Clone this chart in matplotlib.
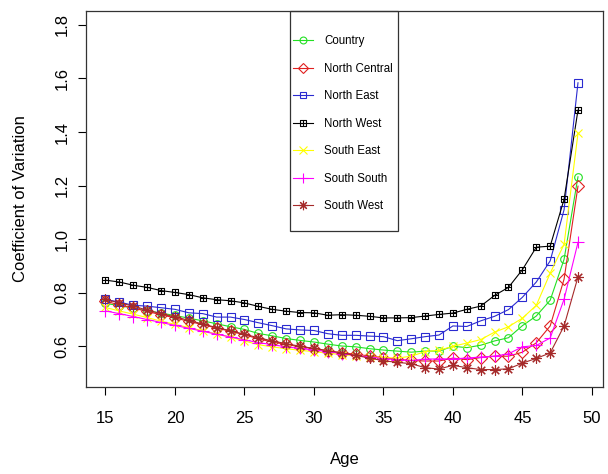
import numpy as np
import matplotlib.pyplot as plt
from matplotlib.path import Path
from matplotlib.patches import Rectangle

plt.rcParams['font.family'] = ['Liberation Sans', 'DejaVu Sans']

age = np.arange(15, 50)

country = [0.760, 0.752, 0.742, 0.733, 0.724, 0.715, 0.705, 0.695, 0.684, 0.673, 0.663, 0.648,
           0.639, 0.629, 0.622, 0.616, 0.608, 0.601, 0.598, 0.591, 0.586, 0.582, 0.578,
           0.582, 0.582, 0.600, 0.595, 0.604, 0.620, 0.632, 0.677, 0.713, 0.772, 0.925, 1.233]
north_central = [0.768, 0.755, 0.743, 0.730, 0.718, 0.706, 0.693, 0.681, 0.668, 0.656, 0.643, 0.628,
                 0.616, 0.607, 0.598, 0.591, 0.582, 0.576, 0.570, 0.564, 0.558, 0.551, 0.547,
                 0.545, 0.545, 0.556, 0.550, 0.558, 0.563, 0.563, 0.578, 0.613, 0.676, 0.851, 1.198]
north_east = [0.775, 0.765, 0.753, 0.750, 0.744, 0.738, 0.725, 0.722, 0.709, 0.709, 0.700, 0.688,
              0.677, 0.665, 0.661, 0.659, 0.647, 0.641, 0.641, 0.638, 0.636, 0.621, 0.628,
              0.636, 0.642, 0.676, 0.674, 0.695, 0.712, 0.737, 0.783, 0.840, 0.919, 1.110, 1.584]
north_west = [0.847, 0.840, 0.828, 0.820, 0.808, 0.801, 0.793, 0.781, 0.774, 0.770, 0.762, 0.749,
              0.738, 0.731, 0.726, 0.725, 0.716, 0.718, 0.716, 0.712, 0.706, 0.706, 0.707,
              0.713, 0.719, 0.724, 0.738, 0.750, 0.790, 0.820, 0.886, 0.970, 0.974, 1.149, 1.482]
south_east = [0.745, 0.732, 0.720, 0.707, 0.694, 0.682, 0.670, 0.658, 0.646, 0.634, 0.620, 0.606,
              0.598, 0.591, 0.585, 0.580, 0.574, 0.569, 0.565, 0.561, 0.558, 0.556, 0.563,
              0.580, 0.585, 0.600, 0.612, 0.625, 0.653, 0.673, 0.705, 0.753, 0.873, 0.981, 1.395]
south_south = [0.732, 0.722, 0.711, 0.700, 0.689, 0.678, 0.667, 0.656, 0.645, 0.635, 0.624, 0.614,
               0.606, 0.598, 0.592, 0.586, 0.580, 0.573, 0.566, 0.560, 0.554, 0.550, 0.547,
               0.552, 0.553, 0.553, 0.556, 0.560, 0.563, 0.572, 0.598, 0.603, 0.631, 0.776, 0.988]
south_west = [0.775, 0.762, 0.750, 0.735, 0.722, 0.710, 0.697, 0.683, 0.670, 0.658, 0.645, 0.632,
              0.620, 0.610, 0.600, 0.592, 0.584, 0.575, 0.566, 0.556, 0.546, 0.540, 0.535,
              0.520, 0.515, 0.529, 0.520, 0.513, 0.513, 0.516, 0.537, 0.555, 0.575, 0.676, 0.859]

names = ['Country', 'North Central', 'North East', 'North West',
         'South East', 'South South', 'South West']

# square with a cross in it (R pch 12)
sq_plus = Path([(-1, -1), (1, -1), (1, 1), (-1, 1), (-1, -1), (0, -1), (0, 1), (-1, 0), (1, 0)],
               [Path.MOVETO, Path.LINETO, Path.LINETO, Path.LINETO, Path.CLOSEPOLY,
                Path.MOVETO, Path.LINETO, Path.MOVETO, Path.LINETO])

series = [country, north_central, north_east, north_west, south_east, south_south, south_west]
colors = ['#22e022', '#e02020', '#2a2ad0', 'black', '#ffff00', '#ff00ff', '#a52a2a']
markers = ['o', 'D', 's', sq_plus, 'x', '+', (8, 2, 0)]
sizes = [5.5, 6, 5.5, 5, 6, 8, 7.5]

fig = plt.figure(figsize=(6.08, 4.74), dpi=100)
ax = fig.add_axes([86 / 608, 1 - 387 / 474, (603 - 86) / 608, (387 - 11) / 474])

for y, c, m, s, n in zip(series, colors, markers, sizes, names):
    ax.plot(age, y, color=c, marker=m, markersize=s, markerfacecolor='none',
            markeredgewidth=0.8, linewidth=0.8, label=n)

ax.set_xlim(13.6, 50.8)
ax.set_ylim(0.448, 1.852)
ax.set_xticks(np.arange(15, 51, 5))
ax.set_yticks(np.arange(0.6, 1.81, 0.2))
ax.set_yticklabels(['%.1f' % v for v in np.arange(0.6, 1.81, 0.2)], rotation=90, va='center')
ax.tick_params(direction='out', length=6, width=0.8, labelsize=12, pad=6)
ax.tick_params(axis='x', pad=11)
for sp in ax.spines.values():
    sp.set_linewidth(0.9)
    sp.set_color('#333333')

ax.set_xlabel('Age', fontsize=12, labelpad=19)
ax.set_ylabel('Coefficient of Variation', fontsize=12, labelpad=19)

leg = fig.legend(loc='upper left', bbox_to_anchor=(293 / 608, 1 - 35 / 474), frameon=False,
                 borderpad=0, borderaxespad=0, fontsize=8.3, handlelength=1.7,
                 handletextpad=1.0, labelspacing=1.35, numpoints=1, markerscale=0.9)
fig.add_artist(Rectangle((290 / 608, 1 - 231 / 474), 108 / 608, 220 / 474,
                         transform=fig.transFigure, fill=False, edgecolor='#333333', linewidth=0.9))

fig.savefig('out.png', dpi=100)
